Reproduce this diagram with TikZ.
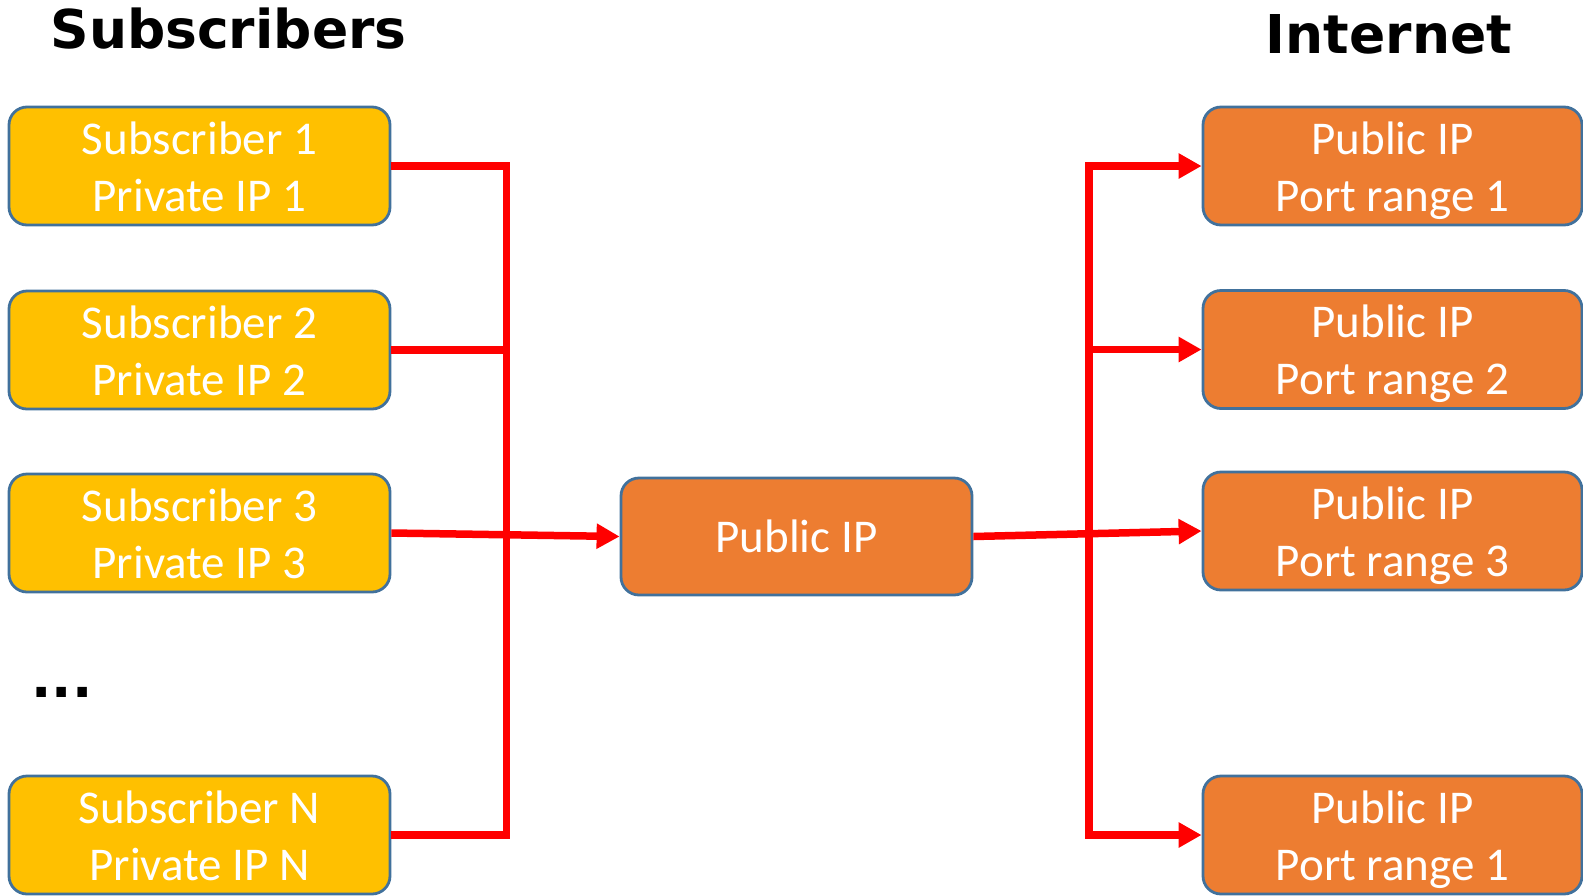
\documentclass[tikz,border=0pt]{standalone}
\usepackage{fontspec}
\usetikzlibrary{arrows.meta}
\newfontfamily\boxfont{Carlito}
\newfontfamily\headfont{DejaVu Sans}
\definecolor{subfill}{RGB}{255,192,0}
\definecolor{pubfill}{RGB}{237,125,49}
\definecolor{rim}{RGB}{65,113,156}
\definecolor{wire}{RGB}{255,0,0}
% two centred lines with fixed top and bottom struts
\newcommand\twolines[2]{\rule{0pt}{43pt}#1\\#2\rule[-10pt]{0pt}{10pt}}
\tikzset{
  card/.style={draw=rim, line width=2.8pt, rounded corners=18pt, inner sep=0pt,
    text=white, align=center, font=\boxfont\fontsize{47}{57}\selectfont},
  subbox/.style={card, fill=subfill, minimum width=381pt, minimum height=118pt},
  portbox/.style={card, fill=pubfill, minimum width=379pt, minimum height=118pt},
  natbox/.style={card, fill=pubfill, minimum width=351pt, minimum height=117pt},
  heading/.style={anchor=base, font=\headfont\bfseries\fontsize{53.5}{60}\selectfont},
  wireline/.style={draw=wire, line width=7.5pt},
  wirearrow/.style={wireline, -{Triangle[length=23pt,width=24pt]}}
}
\begin{document}
\begin{tikzpicture}[x=1pt, y=-1pt]
\useasboundingbox (0,0) rectangle (1583,895);

% column headings
\node[heading] (hsub) at (228.5,48) {Subscribers};
\node[heading] (hnet) at (1389,53) {Internet};
\node[heading, anchor=base west] (dots) at (28,697) {...};

% subscriber side
\node[subbox] (s1) at (199.5,166) {\twolines{Subscriber 1}{Private IP 1}};
\node[subbox] (s2) at (199.5,350) {\twolines{Subscriber 2}{Private IP 2}};
\node[subbox] (s3) at (199.5,533) {\twolines{Subscriber 3}{Private IP 3}};
\node[subbox] (sN) at (199.5,835) {\twolines{Subscriber N}{Private IP N}};

% translated address
\node[natbox] (pub) at (796.5,536.5) {Public IP};

% internet side
\node[portbox] (r1) at (1392.5,166) {\twolines{Public IP}{Port range 1}};
\node[portbox] (r2) at (1392.5,349.5) {\twolines{Public IP}{Port range 2}};
\node[portbox] (r3) at (1392.5,531) {\twolines{Public IP}{Port range 3}};
\node[portbox] (rN) at (1392.5,835) {\twolines{Public IP}{Port range 1}};

% bus junctions
\coordinate (jl) at (506.5,536);
\coordinate (jr) at (1089,536);

% left bus
\draw[wireline] (s1.east) -| (jl);
\draw[wireline] (sN.east) -| (jl);
\draw[wireline] (s2.east) -- (s2.east -| jl);
\draw[wirearrow] (s3.east) -- (pub.west);

% right bus
\draw[wirearrow] (pub.east) -- (r3.west);
\draw[wirearrow] (jr) |- (r1.west);
\draw[wirearrow] (jr) |- (r2.west);
\draw[wirearrow] (jr) |- (rN.west);
\end{tikzpicture}
\end{document}
